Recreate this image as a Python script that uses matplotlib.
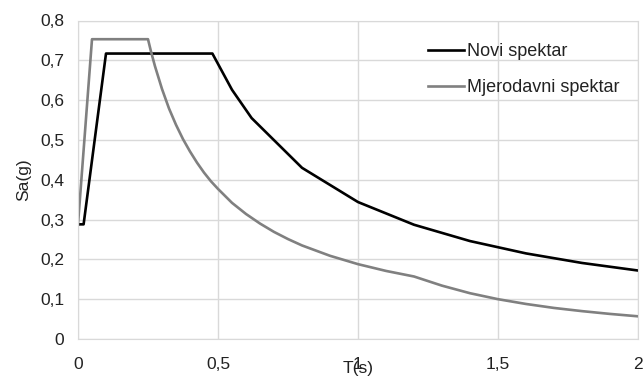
import matplotlib.pyplot as plt
from matplotlib.ticker import FuncFormatter

# Podaci ocitani sa grafika
t_novi = [0, 0.02, 0.1, 0.48, 0.55, 0.62, 0.8, 1.0, 1.2, 1.4, 1.6, 1.8, 2.0]
sa_novi = [0.288, 0.288, 0.717, 0.717, 0.626, 0.555, 0.430, 0.344, 0.287, 0.246, 0.215, 0.191, 0.172]

t_mjer = [0, 0.05, 0.25, 0.26, 0.275, 0.3, 0.325, 0.35, 0.375, 0.4, 0.425, 0.45, 0.475, 0.5,
          0.55, 0.6, 0.65, 0.7, 0.75, 0.8, 0.9, 1.0, 1.1, 1.2,
          1.3, 1.4, 1.5, 1.6, 1.7, 1.8, 1.9, 2.0]
sa_mjer = [0.288, 0.753, 0.753, 0.724, 0.685, 0.628, 0.579, 0.538, 0.502, 0.471, 0.443, 0.418,
           0.396, 0.377, 0.342, 0.314, 0.290, 0.269, 0.251, 0.235, 0.209, 0.188, 0.171, 0.157,
           0.134, 0.115, 0.100, 0.088, 0.078, 0.070, 0.063, 0.057]

x_ticks = [0, 0.5, 1, 1.5, 2]
y_ticks = [0, 0.1, 0.2, 0.3, 0.4, 0.5, 0.6, 0.7, 0.8]

plt.rcParams['font.family'] = ['Liberation Sans', 'DejaVu Sans']

fig = plt.figure(figsize=(6.44, 3.8), dpi=100)
ax = fig.add_axes([78 / 644, 1 - 339 / 380, 560 / 644, 318.5 / 380])

ax.plot(t_novi, sa_novi, color='black', lw=1.9, label='Novi spektar', solid_joinstyle='round')
ax.plot(t_mjer, sa_mjer, color='#808080', lw=1.9, label='Mjerodavni spektar', solid_joinstyle='round')

ax.set_xlim(0, 2)
ax.set_ylim(0, 0.8)
ax.set_xticks(x_ticks)
ax.set_yticks(y_ticks)

fmt = FuncFormatter(lambda v, p: ('%g' % v).replace('.', ','))
ax.xaxis.set_major_formatter(fmt)
ax.yaxis.set_major_formatter(fmt)

ax.grid(True, color='#d9d9d9', lw=1)
ax.set_axisbelow(True)
for s in ax.spines.values():
    s.set_color('#d9d9d9')
ax.tick_params(length=0, labelsize=12.5, colors='#222222')
ax.tick_params(axis='x', pad=13)
ax.tick_params(axis='y', pad=10)

ax.set_xlabel('T(s)', fontsize=12.5, labelpad=-8, color='#222222')
ax.set_ylabel('Sa(g)', fontsize=12.5, labelpad=6, color='#222222')

leg = ax.legend(loc='upper left', bbox_to_anchor=((421 - 78) / 560, 1 - (36 - 20.5) / 318.5),
                frameon=False, fontsize=13, handlelength=2.0, handletextpad=0.15,
                labelspacing=1.05, borderaxespad=0)
for t in leg.get_texts():
    t.set_color('#222222')

fig.savefig('out.png', dpi=100)
